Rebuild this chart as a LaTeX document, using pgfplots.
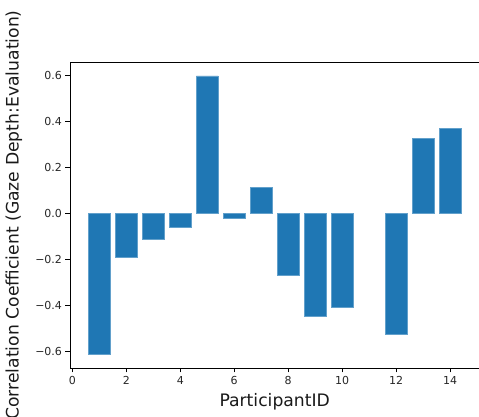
\documentclass[border=0pt]{standalone}
\usepackage{pgfplots}
\pgfplotsset{compat=1.18}
\usepackage{fontspec}
\setmainfont{DejaVu Sans}
\definecolor{mplblue}{HTML}{1F77B4}
\begin{document}
\begin{tikzpicture}
\path[use as bounding box] (0,0) rectangle (479pt,417pt);
\begin{axis}[
  at={(70pt,49pt)}, anchor=south west,
  scale only axis, width=409.4pt, height=306pt,
  xmin=-0.09, xmax=15.09, ymin=-0.6705, ymax=0.6565,
  axis line style={black, line width=0.9pt},
  tick align=outside, tick style={black, line width=0.9pt},
  major tick length=4.5pt,
  xtick={0,2,...,14},
  xticklabels={0,2,4,6,8,10,12,14},
  ytick={-0.6,-0.4,-0.2,0,0.2,0.4,0.6},
  yticklabels={−0.6,−0.4,−0.2,0.0,0.2,0.4,0.6},
  ticklabel style={font=\fontsize{11}{13}\selectfont, text=black!85},
  xtick pos=bottom, ytick pos=left,
  label style={font=\fontsize{17.2}{20}\selectfont, text=black!90},
  xlabel={ParticipantID},
  xlabel style={at={(axis description cs:0.5,-0.1242)}, anchor=base},
  ylabel={Correlation Coefficient (Gaze Depth:Evaluation)},
  ylabel style={at={(axis description cs:-0.1368,0.5)}, anchor=center},
]
\addplot[ybar, bar width=21.6pt, fill=mplblue, draw=mplblue!70, line width=0.4pt, bar shift=0pt]
coordinates {
(1,-0.609) (2,-0.190) (3,-0.110) (4,-0.058) (5,0.596) (6,-0.023) (7,0.112)
(8,-0.270) (9,-0.446) (10,-0.407) (12,-0.525) (13,0.325) (14,0.368)
};
\end{axis}
\end{tikzpicture}
\end{document}
